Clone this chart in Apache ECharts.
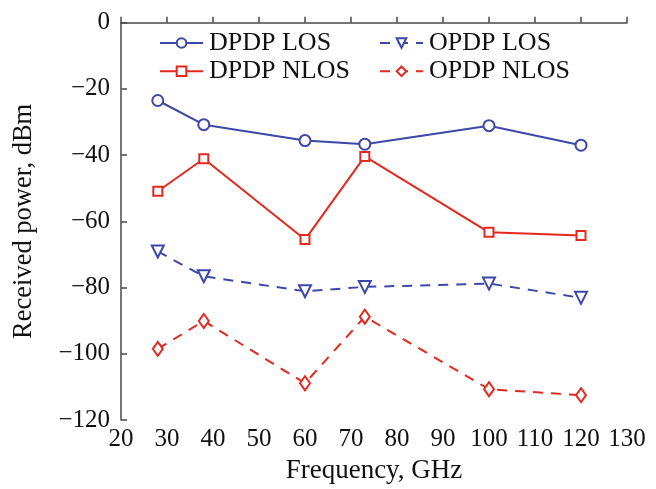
<!DOCTYPE html>
<html>
<head>
<meta charset="utf-8">
<script src="https://cdn.jsdelivr.net/npm/echarts@6/dist/echarts.min.js"></script>
<style>
html,body{margin:0;padding:0;background:#fff;}
#chart{width:656px;height:489px;}
</style>
</head>
<body>
<div id="chart"></div>
<script>
var frequencies = [28, 38, 60, 73, 100, 120];
var dpdpLos = [-23.5, -30.8, -35.6, -36.7, -31.1, -37.0];
var dpdpNlos = [-50.9, -41.1, -65.5, -40.4, -63.3, -64.3];
var opdpLos = [-69.1, -76.6, -81.1, -79.8, -78.8, -83.1];
var opdpNlos = [-98.5, -90.1, -108.9, -88.8, -110.7, -112.5];
var seriesNames = ['DPDP LOS', 'DPDP NLOS', 'OPDP LOS', 'OPDP NLOS'];
var xTitle = 'Frequency, GHz';
var yTitle = 'Received power, dBm';

var BLUE = '#3d47a8';
var RED = '#e3281d';
var AXIS = '#4a4a4a';
var FONT = '"Liberation Serif", "Times New Roman", serif';

function pairs(vals) {
  return frequencies.map(function (f, i) { return [f, vals[i]]; });
}
function mk(name, vals, color, symbol, size, dashed, rotate) {
  return {
    name: name,
    type: 'line',
    data: pairs(vals),
    symbol: symbol,
    symbolSize: size,
    symbolRotate: rotate || 0,
    showAllSymbol: true,
    lineStyle: { color: color, width: 2, type: dashed ? [10, 8] : 'solid' },
    itemStyle: { color: '#fff', borderColor: color, borderWidth: 2 },
    emphasis: { disabled: true },
    animation: false,
    z: 3
  };
}

var chart = echarts.init(document.getElementById('chart'), null, { renderer: 'canvas' });
var legendText = { fontFamily: FONT, fontSize: 26, color: '#111', lineHeight: 26, padding: [0, 0, 0, 1] };
chart.setOption({
  backgroundColor: '#fff',
  animation: false,
  grid: { left: 121, right: 29, top: 22.7, bottom: 68.3, containLabel: false },
  legend: [
    {
      data: [seriesNames[0], seriesNames[1]],
      orient: 'vertical', left: 154, top: 25,
      itemWidth: 43, itemHeight: 12, itemGap: 2.3,
      textStyle: legendText
    },
    {
      data: [seriesNames[2], seriesNames[3]],
      orient: 'vertical', left: 374, top: 25,
      itemWidth: 43, itemHeight: 12, itemGap: 2.3,
      textStyle: legendText
    }
  ],
  xAxis: {
    type: 'value', min: 20, max: 130, interval: 10,
    name: xTitle, nameLocation: 'middle', nameGap: 37,
    nameTextStyle: { fontFamily: FONT, fontSize: 27, color: '#111' },
    axisLine: { show: true, lineStyle: { color: AXIS, width: 1.5 } },
    axisTick: { show: true, inside: true, length: 6, lineStyle: { color: AXIS, width: 1.5 } },
    axisLabel: { fontFamily: FONT, fontSize: 25, color: '#111', margin: 7 },
    splitLine: { show: false }
  },
  yAxis: {
    type: 'value', min: -120, max: 0, interval: 20,
    name: yTitle, nameLocation: 'middle', nameGap: 83,
    nameTextStyle: { fontFamily: FONT, fontSize: 26.5, color: '#111' },
    axisLine: { show: true, lineStyle: { color: AXIS, width: 1.5 } },
    axisTick: { show: true, inside: true, length: 6, lineStyle: { color: AXIS, width: 1.5 } },
    axisLabel: {
      fontFamily: FONT, fontSize: 25, color: '#111', margin: 11,
      formatter: function (v) { return String(v).replace('-', '\u2212'); }
    },
    splitLine: { show: false }
  },
  series: [
    mk(seriesNames[0], dpdpLos, BLUE, 'circle', 11, false),
    mk(seriesNames[1], dpdpNlos, RED, 'rect', 9, false),
    mk(seriesNames[2], opdpLos, BLUE, 'triangle', 12, true, 180),
    mk(seriesNames[3], opdpNlos, RED, 'diamond', [10, 14], true)
  ]
});
</script>
</body>
</html>
